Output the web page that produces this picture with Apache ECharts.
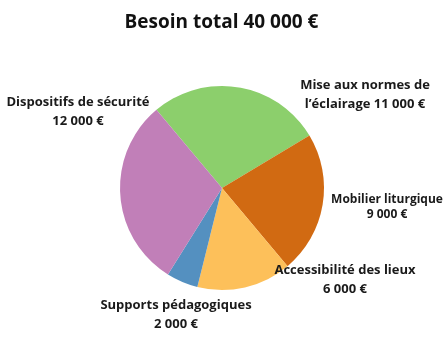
<!DOCTYPE html>
<html>
<head>
<meta charset="utf-8">
<style>
  html, body { margin: 0; padding: 0; background: #ffffff; }
  #chart { width: 443px; height: 340px; }
</style>
<script src="https://cdn.jsdelivr.net/npm/echarts@6/dist/echarts.min.js"></script>
</head>
<body>
<div id="chart"></div>
<script>
// Budget breakdown, clockwise from the top
const categories = [
  'Mise aux normes de\nl’éclairage',
  'Mobilier liturgique',
  'Accessibilité des lieux',
  'Supports pédagogiques',
  'Dispositifs de sécurité'
];
const amounts = [11000, 9000, 6000, 2000, 12000];
const colors = ['#8ccf6c', '#d16a12', '#fdc05a', '#5490c0', '#c17fb8'];
const titleText = 'Besoin total 40 000 €';

// Label block centres and text sizes, one per slice
const labelSpots = [[365, 95], [387, 207], [345, 280], [176, 315], [78, 112]];
const labelLineHeights = [19, 15, 19, 19, 19];
const labelFontSizes = [13, 12, 13, 13, 13];
const valueOnSameLine = [true, false, false, false, false];

function euro(v) {
  return String(v).replace(/\B(?=(\d{3})+(?!\d))/g, ' ') + ' €';
}

const chart = echarts.init(document.getElementById('chart'), null, { renderer: 'canvas' });

chart.setOption({
  animation: false,
  title: {
    text: titleText,
    left: 'center',
    top: 8,
    textStyle: {
      fontFamily: 'Open Sans',
      fontWeight: 'bold',
      fontSize: 19,
      color: '#111111'
    }
  },
  series: [{
    type: 'pie',
    center: [222, 188],
    radius: 102,
    startAngle: 130,
    clockwise: true,
    avoidLabelOverlap: false,
    itemStyle: { borderWidth: 0 },
    labelLine: { show: false },
    label: {
      show: true,
      position: 'outside',
      fontFamily: 'Open Sans',
      fontWeight: 'bold',
      fontSize: 13,
      color: '#1a1a1a',
      align: 'center',
      formatter: function (p) {
        return p.name + (valueOnSameLine[p.dataIndex] ? ' ' : '\n') + euro(p.value);
      }
    },
    labelLayout: function (p) {
      const s = labelSpots[p.dataIndex];
      return { x: s[0], y: s[1], align: 'center', verticalAlign: 'middle' };
    },
    data: categories.map(function (c, i) {
      return {
        name: c,
        value: amounts[i],
        itemStyle: { color: colors[i] },
        label: { lineHeight: labelLineHeights[i], fontSize: labelFontSizes[i] }
      };
    })
  }]
});
</script>
</body>
</html>
